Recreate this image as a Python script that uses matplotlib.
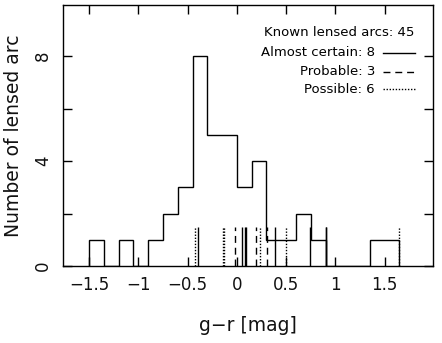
import numpy as np
import matplotlib
matplotlib.use("Agg")
import matplotlib.pyplot as plt

# Histogram of g-r colours (bin edges and counts)
bin_edges = [-1.5, -1.35, -1.2, -1.05, -0.9, -0.75, -0.6, -0.45, -0.3, -0.15,
             0.0, 0.15, 0.3, 0.45, 0.6, 0.75, 0.9, 1.05, 1.2, 1.35, 1.5, 1.65]
counts = [1, 0, 1, 0, 1, 2, 3, 8, 5, 5, 3, 4, 1, 1, 2, 1, 0, 0, 0, 1, 1]

# Known lensed arcs (rug marks)
almost_certain = [-0.40, 0.05, 0.08, 0.09, 0.39, 0.74, 0.90, 0.905]
probable = [-0.02, 0.19, 0.31]
possible = [-0.43, -0.14, -0.13, 0.23, 0.50, 1.65]

xticks = [-1.5, -1, -0.5, 0, 0.5, 1, 1.5]
xticklabels = ["\u22121.5", "\u22121", "\u22120.5", "0", "0.5", "1", "1.5"]
yticks = [0, 2, 4, 6, 8]
yticklabels = ["0", "", "4", "", "8"]

plt.rcParams['font.family'] = ['DejaVu Sans']

fig = plt.figure(figsize=(4.42, 3.43), dpi=100)
ax = fig.add_axes([63/442, 1-266/343, 370/442, 261/343])

ax.stairs(counts, bin_edges, color='black', lw=1.0, baseline=0)

dash = (0, (5, 3.5))
dot = (0, (1, 1.2))
rug_h = 1.5
ax.vlines(almost_certain, 0, rug_h, colors='black', lw=1.0, linestyles='solid')
ax.vlines(probable, 0, rug_h, colors='black', lw=1.0, linestyles=dash)
ax.vlines(possible, 0, rug_h, colors='black', lw=1.0, linestyles=dot)

ax.set_xlim(-1.765, 1.99)
ax.set_ylim(0, 9.95)
ax.set_xticks(xticks, xticklabels)
ax.set_yticks(yticks, yticklabels)
ax.tick_params(direction='in', top=True, right=True, length=6.3, width=1.0,
               labelsize=12, color='black', labelcolor='#111111')
ax.tick_params(axis='x', pad=7)
ax.tick_params(axis='y', pad=8)
for lab in ax.get_yticklabels():
    lab.set_rotation(90)
    lab.set_va('center')
    lab.set_ha('right')
for s in ax.spines.values():
    s.set_linewidth(1.0)

ax.set_xlabel("g\u2212r [mag]", fontsize=13.5, labelpad=16, color='#111111')
ax.set_ylabel("Number of lensed arc", fontsize=13.5, labelpad=8, color='#111111')

# legend-like annotation
tr = ax.transAxes
fs = 9.5
ax.text(0.951, 0.893, "Known lensed arcs: 45", transform=tr, ha='right', va='center', fontsize=fs)
rows = [("Almost certain: 8", 0.818, 'solid'),
        ("Probable: 3", 0.745, dash),
        ("Possible: 6", 0.678, dot)]
for txt, yy, ls in rows:
    ax.text(0.843, yy, txt, transform=tr, ha='right', va='center', fontsize=fs)
    ax.plot([0.864, 0.951], [yy, yy], transform=tr, color='black', lw=1.0, linestyle=ls)

fig.savefig("out.png", dpi=100)
